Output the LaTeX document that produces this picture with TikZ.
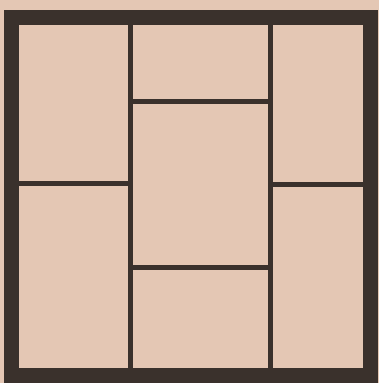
\documentclass[tikz,border=0pt]{standalone}
\definecolor{paper}{RGB}{228,199,180}
\definecolor{ink}{RGB}{58,49,44}
\begin{document}
\begin{tikzpicture}[x=1pt,y=-1pt,
  frame/.style={draw=ink,line width=15.5pt,line join=miter},
  divider/.style={draw=ink,line width=5pt}]
\fill[paper] (0,0) rectangle (379,383);
\useasboundingbox (0,0) rectangle (379,383);
% outer frame
\draw[frame] (11.5,17.5) rectangle (370.5,375.5);
% vertical dividers
\draw[divider] (130,25) -- (130,369);
\draw[divider] (270,25) -- (270,369);
% left and right horizontal dividers
\draw[divider] (19,183.5) -- (130,183.5);
\draw[divider] (270,184) -- (363,184);
% middle column dividers
\draw[divider] (130,101) -- (270,101);
\draw[divider] (130,267) -- (270,267);
\end{tikzpicture}
\end{document}
